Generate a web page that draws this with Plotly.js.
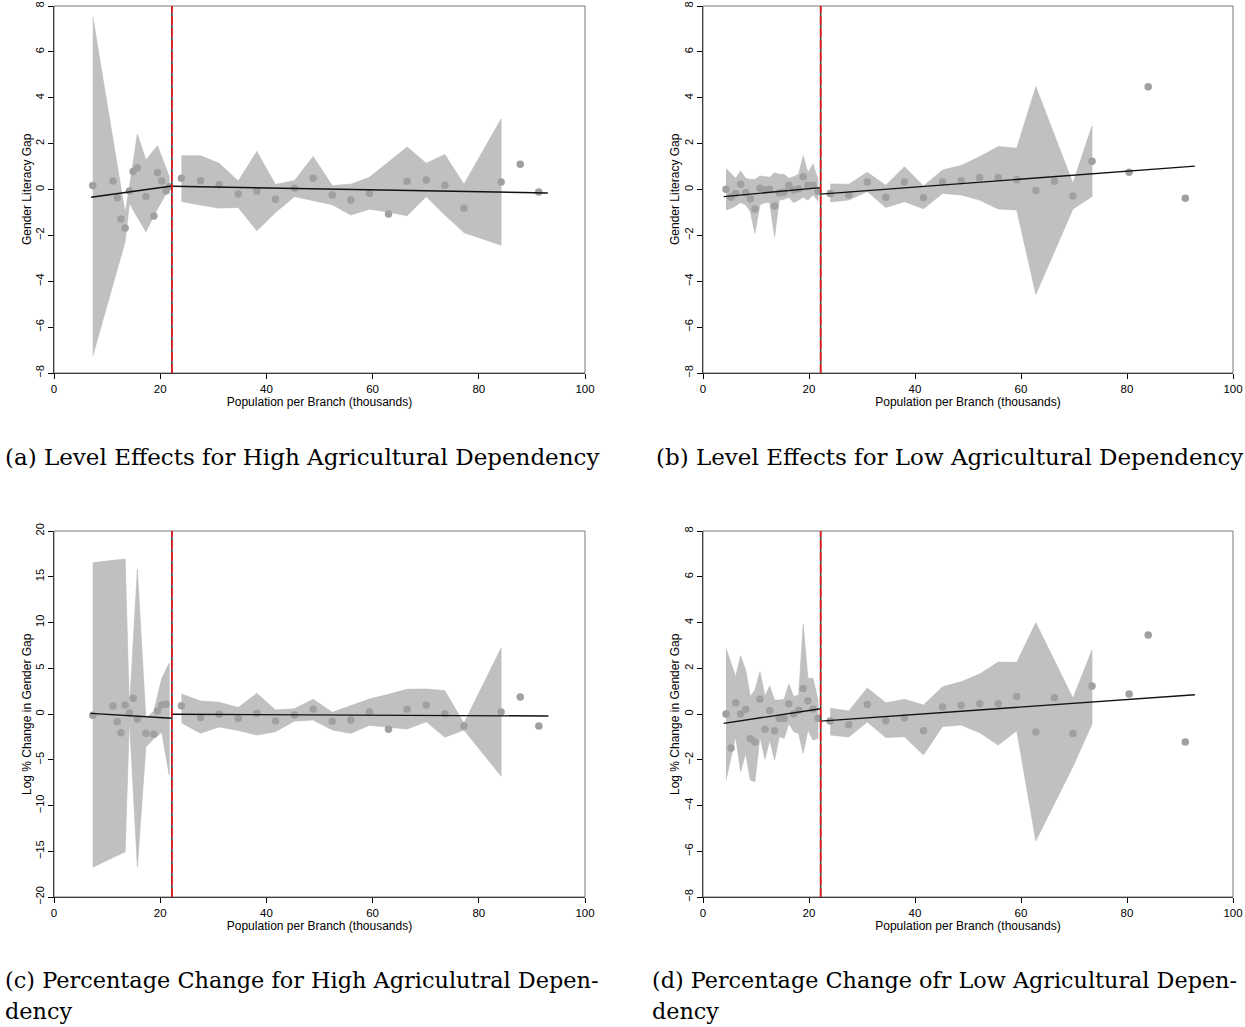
<!DOCTYPE html>
<html><head><meta charset="utf-8">
<script src="https://cdn.plot.ly/plotly-3.0.1.min.js"></script>
<style>html,body{margin:0;padding:0;background:#fff}</style>
</head><body><div id="chart" style="width:1245px;height:1027px"></div>
<script>
// ---------------- DATA ----------------
const cutoff = 22.2;
const xTicks = [0, 20, 40, 60, 80, 100];
const yTicksSmall = [-8, -6, -4, -2, 0, 2, 4, 6, 8];
const yTicksLarge = [-20, -15, -10, -5, 0, 5, 10, 15, 20];
const xTitle = "Population per Branch (thousands)";

// Panel (a)
const aX = [7.3, 11.1, 11.9, 12.6, 13.4, 14.2, 14.9, 15.7, 17.3, 18.8, 19.5, 20.3, 21.1, 21.7,
            24.0, 27.6, 31.1, 34.7, 38.2, 41.7, 45.3, 48.8, 52.4, 55.9, 59.4, 63.0, 66.5, 70.1, 73.6, 77.2, 84.2, 87.8, 91.3];
const aY = [0.17, 0.37, -0.36, -1.29, -1.68, -0.07, 0.78, 0.94, -0.31, -1.16, 0.73, 0.37, -0.07, 0.12,
            0.49, 0.38, 0.21, -0.20, -0.07, -0.43, 0.05, 0.49, -0.24, -0.46, -0.17, -1.07, 0.36, 0.41, 0.18, -0.82, 0.33, 1.10, -0.11];
const aBandLX = [7.3, 13.4, 14.2, 15.7, 17.3, 19.5, 21.7];
const aBandLU = [7.53, -1.04, 0.1, 2.41, 1.29, 1.91, 0.56];
const aBandLL = [-7.26, -2.27, -0.6, -1.21, -1.84, -0.84, 0.05];
const aBandRX = [24.0, 27.6, 31.1, 34.7, 38.2, 41.7, 45.3, 48.8, 52.4, 55.9, 59.4, 63.0, 66.5, 70.1, 73.6, 77.2, 84.2];
const aBandRU = [1.47, 1.47, 1.14, 0.37, 1.66, 0.22, 0.39, 1.44, 0.17, 0.23, 0.53, 1.19, 1.85, 1.14, 1.53, 0.23, 3.07];
const aBandRL = [-0.52, -0.68, -0.81, -0.78, -1.80, -1.0, -0.31, -0.49, -0.66, -1.11, -0.86, -0.98, -1.14, -0.31, -1.11, -1.88, -2.43];
const aFitLX = [7.0, cutoff], aFitLY = [-0.34, 0.15];
const aFitRX = [cutoff, 93.0], aFitRY = [0.14, -0.15];

// Panel (b)
const bX = [4.34, 5.28, 6.16, 7.1, 8.05, 8.93, 9.8, 10.75, 11.7, 12.58, 13.5, 14.4, 15.3, 16.2, 17.1, 18.05, 18.9, 19.8, 20.75, 21.7,
            24.0, 27.5, 31.0, 34.5, 38.0, 41.6, 45.2, 48.7, 52.2, 55.7, 59.2, 62.8, 66.3, 69.8, 73.4, 80.4, 84.0, 91.0];
const bY = [0.01, -0.34, -0.17, 0.23, -0.14, -0.40, -0.85, 0.05, -0.02, 0.01, -0.72, -0.14, -0.11, 0.17, -0.02, 0.03, 0.56, 0.18, 0.18, -0.09,
            -0.17, -0.23, 0.33, -0.34, 0.33, -0.36, 0.33, 0.38, 0.52, 0.52, 0.43, -0.04, 0.36, -0.28, 1.23, 0.75, 4.48, -0.38];
const bBandLX = [4.34, 5.28, 6.16, 7.1, 8.05, 8.93, 9.8, 10.75, 11.7, 12.58, 13.5, 14.4, 15.3, 16.2, 17.1, 18.05, 18.9, 19.8, 20.75, 21.7];
const bBandLU = [0.92, 0.71, 0.49, 0.81, 0.49, 0.44, 0.44, 0.59, 0.56, 0.53, 0.73, 0.66, 0.66, 0.49, 0.56, 0.66, 1.47, 0.73, 1.11, 0.44];
const bBandLL = [-0.89, -0.82, -0.72, -0.57, -0.67, -0.97, -1.91, -0.67, -0.57, -0.57, -2.06, -0.46, -0.43, -0.34, -0.57, -0.46, -0.34, -0.46, -0.24, -0.49];
const bBandRX = [24.0, 27.5, 31.0, 34.5, 38.0, 41.6, 45.2, 48.7, 52.2, 55.7, 59.2, 62.8, 69.8, 73.4];
const bBandRU = [0.24, 0.23, 0.75, 0.18, 0.99, 0.15, 0.85, 1.05, 1.43, 1.87, 1.80, 4.48, 0.27, 2.77];
const bBandRL = [-0.54, -0.46, -0.09, -0.78, -0.53, -0.84, -0.17, -0.24, -0.46, -0.85, -0.89, -4.57, -0.85, -0.31];
const bFitLX = [3.9, cutoff], bFitLY = [-0.31, 0.08];
const bFitRX = [cutoff, 92.8], bFitRY = [-0.20, 1.02];

// Panel (c)
const cX = [7.3, 11.1, 11.9, 12.6, 13.4, 14.2, 14.9, 15.7, 17.3, 18.8, 19.5, 20.3, 21.1,
            24.0, 27.6, 31.1, 34.7, 38.2, 41.7, 45.3, 48.8, 52.4, 55.9, 59.4, 63.0, 66.5, 70.1, 73.6, 77.2, 84.2, 87.8, 91.3];
const cY = [-0.14, 0.87, -0.84, -2.04, 0.98, 0.11, 1.71, -0.55, -2.11, -2.22, 0.33, 0.98, 1.06,
            0.91, -0.38, -0.04, -0.49, 0.07, -0.77, -0.11, 0.51, -0.80, -0.66, 0.22, -1.68, 0.51, 0.98, 0.03, -1.31, 0.22, 1.86, -1.31];
const cBandLX = [7.3, 13.4, 14.2, 15.7, 17.3, 18.8, 20.3, 21.7];
const cBandLU = [16.54, 16.94, 0.6, 15.81, -0.47, 0.3, 3.9, 5.54];
const cBandLL = [-16.76, -15.05, -0.6, -16.69, -3.57, -2.7, -2.0, -6.67];
const cBandRX = [24.0, 27.6, 31.1, 34.7, 38.2, 41.7, 45.3, 48.8, 52.4, 55.9, 59.4, 63.0, 66.5, 70.1, 73.6, 77.2, 84.2];
const cBandRU = [2.19, 1.42, 1.28, 0.71, 2.26, 0.44, 0.58, 1.60, 0.18, 0.91, 1.64, 2.15, 2.70, 2.73, 2.55, -1.02, 7.2];
const cBandRL = [-0.95, -2.11, -1.42, -1.80, -2.30, -1.93, -0.77, -0.66, -1.75, -2.11, -1.24, -1.46, -1.64, -0.84, -2.55, -1.75, -6.78];
const cFitLX = [6.9, cutoff], cFitLY = [0.07, -0.47];
const cFitRX = [cutoff, 93.1], cFitRY = [-0.03, -0.22];

// Panel (d)
const dX = bX;
const dY = [0.0, -1.49, 0.49, 0.0, 0.20, -1.08, -1.22, 0.64, -0.67, 0.15, -0.73, -0.20, -0.20, 0.45, 0.0, 0.16, 1.12, 0.58, 0.22, -0.19,
            -0.31, -0.47, 0.42, -0.29, -0.16, -0.73, 0.31, 0.38, 0.45, 0.45, 0.77, -0.79, 0.71, -0.85, 1.22, 0.87, 3.45, -1.22];
const dBandLX = bBandLX;
const dBandLU = [2.87, 2.24, 1.63, 2.54, 1.92, 0.76, 1.05, 1.85, 0.76, 1.22, 0.61, 0.61, 0.64, 1.31, 0.76, 0.83, 3.92, 1.56, 1.56, 0.61];
const dBandLL = [-2.89, -1.87, -0.99, -2.52, -1.72, -2.89, -2.96, -0.99, -1.98, -1.14, -2.01, -0.99, -1.06, -0.41, -0.77, -0.85, -1.72, -0.70, -1.14, -1.06];
const dBandRX = bBandRX;
const dBandRU = [0.25, 0.13, 1.14, 0.49, 0.64, 0.39, 1.19, 1.41, 1.75, 2.27, 2.26, 3.99, 0.69, 2.80];
const dBandRL = [-0.92, -1.0, -0.35, -1.03, -0.99, -1.79, -0.55, -0.48, -0.82, -1.36, -0.73, -5.54, -2.3, -0.44];
const dFitLX = [3.9, cutoff], dFitLY = [-0.41, 0.23];
const dFitRX = [cutoff, 92.8], dFitRY = [-0.31, 0.84];

const captions = {
  a: ["(a) Level Effects for High Agricultural Dependency"],
  b: ["(b) Level Effects for Low Agricultural Dependency"],
  c: ["(c) Percentage Change for High Agriculutral Depen-", "dency"],
  d: ["(d) Percentage Change ofr Low Agricultural Depen-", "dency"]
};
const yTitles = {a: "Gender Literacy Gap", b: "Gender Literacy Gap",
                 c: "Log % Change in Gender Gap", d: "Log % Change in Gender Gap"};

// ---------------- BUILD ----------------
const W = 1245, H = 1027;
const BAND = "rgb(192,192,192)", DOT = "rgb(160,160,160)";
const traces = [];
function band(xa, ya, bx, up, lo) {
  traces.push({type: "scatter", mode: "lines", xaxis: xa, yaxis: ya,
    x: bx.concat(bx.slice().reverse()), y: up.concat(lo.slice().reverse()),
    fill: "toself", fillcolor: BAND, line: {color: "rgb(185,185,185)", width: 0.6},
    hoverinfo: "skip", showlegend: false});
}
function panel(xa, ya, px, py, blx, blu, bll, brx, bru, brl, flx, fly, frx, fry) {
  band(xa, ya, blx, blu, bll);
  band(xa, ya, brx, bru, brl);
  traces.push({type: "scatter", mode: "markers", xaxis: xa, yaxis: ya, x: px, y: py,
    marker: {color: DOT, size: 7.5}, showlegend: false});
  [[flx, fly], [frx, fry]].forEach(([fx, fy]) => traces.push({type: "scatter", mode: "lines",
    xaxis: xa, yaxis: ya, x: fx, y: fy, line: {color: "#111", width: 1.4}, showlegend: false}));
}
panel("x", "y", aX, aY, aBandLX, aBandLU, aBandLL, aBandRX, aBandRU, aBandRL, aFitLX, aFitLY, aFitRX, aFitRY);
panel("x2", "y2", bX, bY, bBandLX, bBandLU, bBandLL, bBandRX, bBandRU, bBandRL, bFitLX, bFitLY, bFitRX, bFitRY);
panel("x3", "y3", cX, cY, cBandLX, cBandLU, cBandLL, cBandRX, cBandRU, cBandRL, cFitLX, cFitLY, cFitRX, cFitRY);
panel("x4", "y4", dX, dY, dBandLX, dBandLU, dBandLL, dBandRX, dBandRU, dBandRL, dFitLX, dFitLY, dFitRX, dFitRY);

const FONT = "Liberation Sans, Arial, sans-serif";
function xAxis(px0, px1, anchor) {
  return {domain: [px0 / W, px1 / W], anchor: anchor, range: [0, 100], tickvals: xTicks,
    ticks: "outside", ticklen: 5, tickcolor: "#000", showline: true, linecolor: "#000", linewidth: 1,
    showgrid: false, zeroline: false, automargin: false,
    tickfont: {family: FONT, size: 11.5, color: "#000"},
    title: {text: xTitle, font: {family: FONT, size: 12, color: "#000"}, standoff: 1}};
}
function yAxis(py0, py1, anchor, ticks) {
  return {domain: [1 - py1 / H, 1 - py0 / H], anchor: anchor, range: [ticks[0], ticks[ticks.length - 1]],
    tickvals: ticks, tickangle: -90, ticks: "outside", ticklen: 5, tickcolor: "#000",
    showline: true, linecolor: "#000", linewidth: 1, showgrid: false, zeroline: false, automargin: false,
    tickfont: {family: FONT, size: 11, color: "#000"}};
}
const shapes = [];
const axes = [["x", "y"], ["x2", "y2"], ["x3", "y3"], ["x4", "y4"]];
axes.forEach(([xa, ya]) => {
  shapes.push({type: "rect", xref: xa + " domain", yref: ya + " domain", x0: 0, x1: 1, y0: 0, y1: 1,
    line: {color: "rgb(120,120,120)", width: 1}, layer: "above"});
  shapes.push({type: "line", xref: xa, yref: ya + " domain", x0: cutoff, x1: cutoff, y0: 0, y1: 1,
    line: {color: "#444", width: 1.6}, layer: "above"});
  shapes.push({type: "line", xref: xa, yref: ya + " domain", x0: cutoff, x1: cutoff, y0: 0, y1: 1,
    line: {color: "rgb(235,20,20)", width: 1.6, dash: "9px,3px"}, layer: "above"});
});

function cap(text, px, py, size) {
  return {text: text, xref: "paper", yref: "paper", x: px / W, y: 1 - py / H,
    xanchor: "left", yanchor: "middle", showarrow: false, borderpad: 0,
    font: {family: "DejaVu Serif, serif", size: size, color: "#000"}};
}
function ytitle(text, px, py) {
  return {text: text, xref: "paper", yref: "paper", x: px / W, y: 1 - py / H, textangle: -90,
    xanchor: "center", yanchor: "middle", showarrow: false,
    font: {family: FONT, size: 12, color: "#000"}};
}
const annotations = [
  cap(captions.a[0], 4, 457, 23), cap(captions.b[0], 655, 457, 23),
  cap(captions.c[0], 4, 980, 22.4), cap(captions.c[1], 4, 1011, 22.4),
  cap(captions.d[0], 651, 980, 22.3), cap(captions.d[1], 651, 1011, 22.3),
  ytitle(yTitles.a, 27, 189), ytitle(yTitles.b, 675, 189),
  ytitle(yTitles.c, 27, 714), ytitle(yTitles.d, 675, 714)
];

const layout = {
  width: W, height: H, margin: {l: 0, r: 0, t: 0, b: 0},
  paper_bgcolor: "#fff", plot_bgcolor: "#fff", showlegend: false,
  xaxis: xAxis(54, 585, "y"), yaxis: yAxis(6, 373, "x", yTicksSmall),
  xaxis2: xAxis(703, 1233, "y2"), yaxis2: yAxis(6, 373, "x2", yTicksSmall),
  xaxis3: xAxis(54, 585, "y3"), yaxis3: yAxis(531, 897, "x3", yTicksLarge),
  xaxis4: xAxis(703, 1233, "y4"), yaxis4: yAxis(531, 897, "x4", yTicksSmall),
  shapes: shapes, annotations: annotations
};
Plotly.newPlot("chart", traces, layout, {staticPlot: true});
</script></body></html>
